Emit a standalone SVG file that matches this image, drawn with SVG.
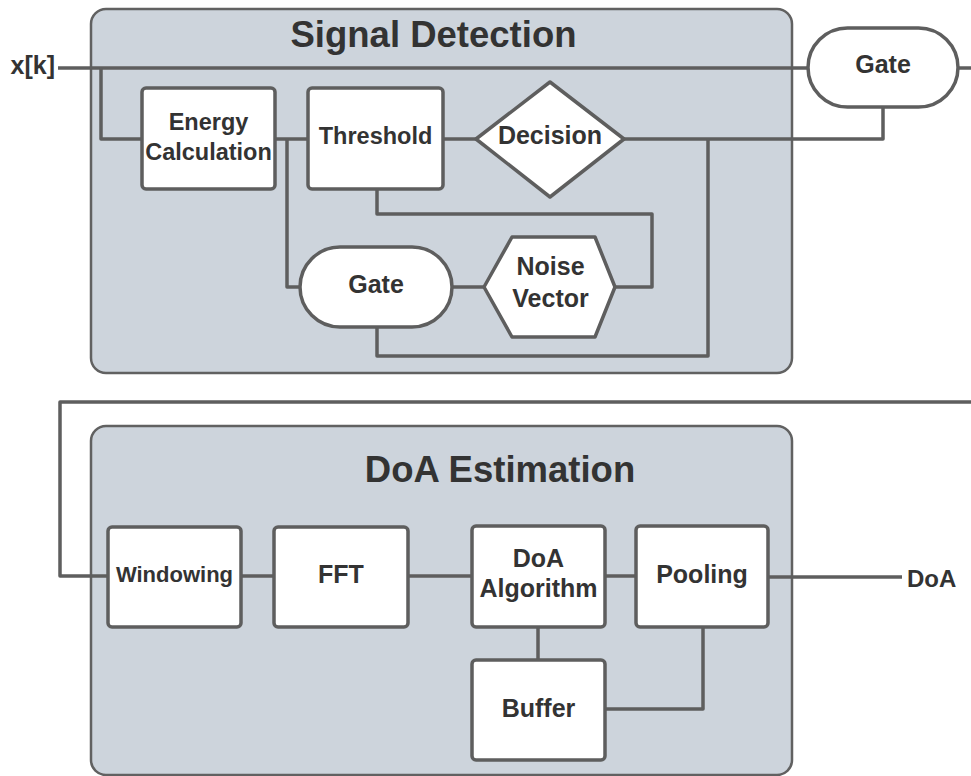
<svg xmlns="http://www.w3.org/2000/svg" width="971" height="776" viewBox="0 0 971 776">
  <style>
    .container { fill: #cdd4dc; stroke: #616161; stroke-width: 2.5; }
    .node { fill: #ffffff; stroke: #5e5e5e; stroke-width: 3.5; stroke-linejoin: round; }
    .wire { fill: none; stroke: #5e5e5e; stroke-width: 3.5; stroke-linejoin: round; }
    text { font-family: "Liberation Sans", Arial, sans-serif; font-weight: bold; fill: #333333; }
    .lbl { font-size: 25px; text-anchor: middle; }
    .lbl-s { font-size: 23.5px; text-anchor: middle; }
    .title { font-size: 36.5px; text-anchor: middle; }
    .io { font-size: 25px; }
  </style>

  <rect width="971" height="776" fill="#ffffff"/>

  <!-- processing stages -->
  <g id="signal-detection">
    <rect class="container" x="91" y="9" width="701" height="364" rx="15"/>
    <text class="title" x="433.5" y="47">Signal Detection</text>
  </g>
  <g id="doa-estimation">
    <rect class="container" x="91" y="426" width="701" height="349" rx="15"/>
    <text class="title" x="500" y="482.3">DoA Estimation</text>
  </g>

  <!-- connectors -->
  <g id="connectors">
    <path class="wire" d="M58,68 H808"/>
    <path class="wire" d="M101,68 V139 H142"/>
    <path class="wire" d="M275,139 H308"/>
    <path class="wire" d="M287,139 V287 H300"/>
    <path class="wire" d="M443,139 H476"/>
    <path class="wire" d="M624,139 H883 V107"/>
    <path class="wire" d="M708,139 V356 H377 V327"/>
    <path class="wire" d="M377,190 V214 H652 V287 H615"/>
    <path class="wire" d="M452,287 H484"/>
    <path class="wire" d="M958,68 H971"/>
    <path class="wire" d="M971,402 H60 V576 H108"/>
    <path class="wire" d="M241,576 H274"/>
    <path class="wire" d="M408,576 H472"/>
    <path class="wire" d="M605,576 H636"/>
    <path class="wire" d="M768,577 H902"/>
    <path class="wire" d="M538,627 V660"/>
    <path class="wire" d="M703,627 V709 H605"/>
  </g>

  <!-- signal endpoints -->
  <g id="input-xk">
    <text class="io" x="55" y="74" text-anchor="end">x[k]</text>
  </g>
  <g id="output-doa">
    <text class="io" x="907" y="587" style="font-size:24px">DoA</text>
  </g>

  <!-- detection nodes -->
  <g id="energy-calculation">
    <rect class="node" x="142" y="88" width="133" height="101" rx="4"/>
    <text class="lbl-s" x="208.5" y="130">Energy</text>
    <text class="lbl-s" x="208.5" y="159.5">Calculation</text>
  </g>
  <g id="threshold">
    <rect class="node" x="308" y="88" width="135" height="101" rx="4"/>
    <text class="lbl-s" x="375.5" y="143.5">Threshold</text>
  </g>
  <g id="decision">
    <polygon class="node" points="476,139 550,82 624,139 550,197"/>
    <text class="lbl" x="550" y="143.5">Decision</text>
  </g>
  <g id="gate-out">
    <rect class="node" x="808" y="28" width="150" height="79" rx="39.5"/>
    <text class="lbl" x="883" y="72.5">Gate</text>
  </g>
  <g id="gate-noise">
    <rect class="node" x="300" y="247" width="152" height="80" rx="40"/>
    <text class="lbl" x="376" y="292.5">Gate</text>
  </g>
  <g id="noise-vector">
    <polygon class="node" points="484,287 512,237 595,237 615,287 595,337 512,337"/>
    <text class="lbl" x="550.5" y="275">Noise</text>
    <text class="lbl" x="550.5" y="307.3">Vector</text>
  </g>

  <!-- estimation nodes -->
  <g id="windowing">
    <rect class="node" x="108" y="527" width="133" height="100" rx="4"/>
    <text class="lbl" x="174.5" y="582" style="font-size:22px">Windowing</text>
  </g>
  <g id="fft">
    <rect class="node" x="274" y="527" width="134" height="100" rx="4"/>
    <text class="lbl" x="341" y="582.7">FFT</text>
  </g>
  <g id="doa-algorithm">
    <rect class="node" x="472" y="526" width="133" height="101" rx="4"/>
    <text class="lbl" x="538.5" y="567">DoA</text>
    <text class="lbl" x="538.5" y="597.3">Algorithm</text>
  </g>
  <g id="pooling">
    <rect class="node" x="636" y="526" width="132" height="101" rx="4"/>
    <text class="lbl" x="702" y="582.7">Pooling</text>
  </g>
  <g id="buffer">
    <rect class="node" x="472" y="660" width="133" height="100" rx="4"/>
    <text class="lbl" x="538.5" y="716.7">Buffer</text>
  </g>
</svg>
